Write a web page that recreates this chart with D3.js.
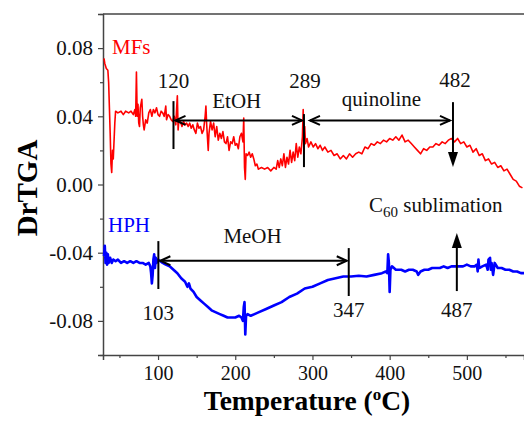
<!DOCTYPE html>
<html>
<head>
<meta charset="utf-8">
<script src="https://cdn.jsdelivr.net/npm/d3@7"></script>
<style>
  body { margin: 0; background: #fff; }
  text { font-family: "Liberation Serif", "Times New Roman", serif; }
</style>
</head>
<body>
<div id="chart"></div>
<script>
// DrTGA curves: [temperature (C), DrTGA]
const mfs = [
  [30, 0.074], [31, 0.071], [33, 0.068], [35, 0.067], [36, 0.060], [37, 0.045], [38, 0.030],
  [39, 0.012], [40, 0.007], [41, 0.020], [42, 0.015], [44, 0.036], [45, 0.043], [48, 0.042],
  [52, 0.043], [55, 0.041], [58, 0.043], [62, 0.042], [65, 0.043], [68, 0.041], [70, 0.044],
  [71, 0.040], [72, 0.066], [73, 0.040], [74, 0.047], [75, 0.036], [76, 0.034], [77, 0.045],
  [79, 0.050], [80, 0.040], [81, 0.035], [82, 0.032], [84, 0.038], [86, 0.036], [88, 0.042],
  [90, 0.044], [92, 0.040], [94, 0.044], [96, 0.042], [98, 0.045], [100, 0.041], [102, 0.040],
  [104, 0.043], [106, 0.042], [108, 0.040], [110, 0.046], [111, 0.038], [113, 0.041],
  [115, 0.040], [117, 0.038], [119, 0.037], [121, 0.040], [123, 0.035], [124, 0.044],
  [125, 0.052], [126, 0.032], [127, 0.038], [129, 0.037], [131, 0.034], [133, 0.037],
  [135, 0.035], [137, 0.036], [139, 0.034], [141, 0.036], [143, 0.033], [145, 0.035],
  [147, 0.032], [149, 0.030], [151, 0.036], [153, 0.033], [155, 0.034], [157, 0.030],
  [159, 0.032], [161, 0.040], [162, 0.046], [163, 0.035], [165, 0.020], [166, 0.030],
  [168, 0.037], [170, 0.032], [172, 0.036], [174, 0.028], [176, 0.034], [178, 0.026],
  [180, 0.030], [182, 0.027], [184, 0.031], [186, 0.025], [188, 0.024], [190, 0.028],
  [192, 0.020], [194, 0.025], [196, 0.024], [198, 0.028], [200, 0.023], [202, 0.024],
  [204, 0.021], [206, 0.028], [208, 0.030], [210, 0.025], [211, 0.039], [212, 0.010],
  [213, 0.003], [214, 0.018], [216, 0.017], [218, 0.019], [220, 0.016], [222, 0.018],
  [224, 0.015], [226, 0.011], [228, 0.012], [230, 0.009], [234, 0.010], [238, 0.009],
  [242, 0.010], [246, 0.008], [250, 0.010], [253, 0.009], [255, 0.014], [257, 0.010],
  [259, 0.015], [261, 0.011], [263, 0.018], [265, 0.010], [267, 0.016], [269, 0.012],
  [271, 0.020], [273, 0.013], [275, 0.019], [277, 0.014], [279, 0.024], [281, 0.016],
  [283, 0.022], [285, 0.018], [287, 0.028], [288, 0.044], [289, 0.018], [290, 0.034],
  [291, 0.024], [293, 0.027], [295, 0.022], [298, 0.025], [301, 0.022], [304, 0.024],
  [307, 0.021], [310, 0.023], [313, 0.020], [316, 0.022], [320, 0.019], [324, 0.020],
  [328, 0.017], [332, 0.018], [336, 0.015], [340, 0.017], [344, 0.015], [348, 0.018],
  [352, 0.016], [356, 0.018], [360, 0.019], [364, 0.018], [368, 0.022], [372, 0.021],
  [376, 0.024], [380, 0.023], [384, 0.025], [388, 0.024], [392, 0.026], [396, 0.025],
  [400, 0.027], [404, 0.026], [408, 0.028], [412, 0.026], [416, 0.029], [420, 0.025],
  [424, 0.026], [428, 0.024], [432, 0.022], [436, 0.020], [440, 0.018], [444, 0.021],
  [448, 0.020], [452, 0.022], [456, 0.022], [460, 0.024], [464, 0.023], [468, 0.025],
  [472, 0.024], [476, 0.026], [480, 0.027], [484, 0.025], [488, 0.027], [492, 0.024],
  [496, 0.025], [500, 0.022], [504, 0.023], [508, 0.019], [512, 0.021], [516, 0.017],
  [520, 0.018], [524, 0.014], [528, 0.015], [532, 0.012], [536, 0.013], [540, 0.010],
  [544, 0.011], [548, 0.008], [552, 0.009], [556, 0.006], [560, 0.003], [564, 0.002],
  [568, -0.001], [572, -0.002]
];

const hph = [
  [30, -0.042], [31, -0.036], [32, -0.046], [33, -0.040], [34, -0.047], [35, -0.041],
  [36, -0.046], [38, -0.043], [40, -0.046], [42, -0.044], [45, -0.045], [48, -0.044],
  [52, -0.046], [56, -0.045], [60, -0.046], [64, -0.045], [68, -0.046], [72, -0.045],
  [76, -0.046], [80, -0.046], [84, -0.047], [88, -0.046], [90, -0.048], [91, -0.052],
  [92, -0.058], [93, -0.053], [94, -0.044], [95, -0.041], [96, -0.049], [97, -0.043],
  [98, -0.046], [100, -0.044], [103, -0.045], [106, -0.046], [110, -0.047], [115, -0.048],
  [120, -0.050], [125, -0.052], [130, -0.055], [135, -0.057], [138, -0.060], [140, -0.058],
  [142, -0.061], [146, -0.063], [150, -0.066], [155, -0.068], [160, -0.070], [165, -0.072],
  [170, -0.074], [175, -0.075], [180, -0.076], [185, -0.077], [190, -0.078], [195, -0.078],
  [200, -0.078], [205, -0.077], [208, -0.078], [210, -0.080], [211, -0.072], [212, -0.069],
  [213, -0.088], [214, -0.077], [216, -0.076], [220, -0.077], [225, -0.076], [230, -0.075],
  [240, -0.073], [250, -0.071], [260, -0.069], [270, -0.066], [280, -0.064], [290, -0.061],
  [300, -0.060], [310, -0.058], [320, -0.056], [330, -0.055], [340, -0.054], [350, -0.054],
  [360, -0.0535], [370, -0.054], [380, -0.053], [390, -0.052], [395, -0.051], [397, -0.052],
  [398, -0.041], [399, -0.046], [400, -0.063], [401, -0.050], [403, -0.048], [408, -0.050],
  [415, -0.050], [420, -0.051], [425, -0.050], [430, -0.050], [435, -0.051], [437, -0.053],
  [440, -0.051], [445, -0.050], [450, -0.050], [455, -0.049], [460, -0.049], [465, -0.049],
  [470, -0.048], [475, -0.049], [480, -0.048], [485, -0.048], [490, -0.048], [495, -0.048],
  [500, -0.047], [505, -0.048], [510, -0.048], [513, -0.047], [514, -0.051], [515, -0.044],
  [516, -0.049], [520, -0.048], [525, -0.047], [527, -0.050], [528, -0.044], [530, -0.043],
  [531, -0.050], [532, -0.046], [534, -0.053], [536, -0.046], [540, -0.049], [545, -0.049],
  [550, -0.050], [555, -0.050], [560, -0.051], [565, -0.051], [570, -0.052], [574, -0.052]
];

// marked temperatures and the step names between them
const mfsEvents = [120, 289, 482];
const mfsSteps = ["EtOH", "quinoline"];
const hphEvents = [103, 347, 487];
const hphSteps = ["MeOH"];

const xTicks = [100, 200, 300, 400, 500];
const yTicks = [-0.08, -0.04, 0.00, 0.04, 0.08];

const width = 524;
const height = 421;
const margin = { top: 14, right: 0, bottom: 66, left: 103 };

const svg = d3.select("#chart").append("svg")
    .attr("width", width)
    .attr("height", height);

const x = d3.scaleLinear()
    .domain([28.7, 574])
    .range([margin.left, width - margin.right]);

const y = d3.scaleLinear()
    .domain([-0.1, 0.1])
    .range([height - margin.bottom, margin.top]);

const axisColor = "#444";
const fontSize = "21px";

// frame: top line + axes
svg.append("line")
    .attr("x1", margin.left).attr("x2", width)
    .attr("y1", margin.top).attr("y2", margin.top)
    .attr("stroke", axisColor).attr("stroke-width", 1.5);

const xAxis = svg.append("g")
    .attr("transform", `translate(0,${height - margin.bottom})`)
    .call(d3.axisBottom(x).tickValues(xTicks).tickSize(5).tickPadding(6).tickFormat(d3.format("d")));

svg.append("g")
    .attr("transform", `translate(0,${height - margin.bottom})`)
    .call(d3.axisBottom(x).tickValues([50, 150, 250, 350, 450, 550]).tickSize(3).tickFormat(""))
    .call(g => g.select(".domain").remove());

const yAxis = svg.append("g")
    .attr("transform", `translate(${margin.left},0)`)
    .call(d3.axisLeft(y).tickValues(yTicks).tickSize(5).tickPadding(5).tickFormat(d3.format(".2f")));

svg.append("g")
    .attr("transform", `translate(${margin.left},0)`)
    .call(d3.axisLeft(y).tickValues([-0.1, -0.06, -0.02, 0.02, 0.06, 0.1]).tickSize(3).tickFormat(""))
    .call(g => g.select(".domain").remove());

svg.selectAll(".domain").attr("stroke", axisColor).attr("stroke-width", 1.5);
svg.selectAll(".tick line").attr("stroke", axisColor).attr("stroke-width", 1.2);
svg.selectAll(".tick text")
    .style("font-family", "Liberation Serif")
    .style("font-size", fontSize)
    .attr("fill", "#111");
xAxis.selectAll(".tick text").style("font-size", "20px");
yAxis.selectAll(".tick text").text(d => d3.format(".2f")(d).replace("−", "-"));

// axis titles
svg.append("text")
    .attr("transform", "rotate(-90)")
    .attr("x", -188)
    .attr("y", 37)
    .attr("text-anchor", "middle")
    .style("font-size", "29px")
    .style("font-weight", "bold")
    .text("DrTGA");

const xTitle = svg.append("text")
    .attr("x", 307)
    .attr("y", 410)
    .attr("text-anchor", "middle")
    .style("font-size", "27.5px")
    .style("font-weight", "bold");
xTitle.append("tspan").text("Temperature (");
xTitle.append("tspan").attr("dy", -10).style("font-size", "17px").text("o");
xTitle.append("tspan").attr("dy", 10).text("C)");

// curves
const line = d3.line()
    .x(d => x(d[0]))
    .y(d => y(d[1]));

svg.append("path")
    .datum(mfs)
    .attr("fill", "none")
    .attr("stroke", "#ff0000")
    .attr("stroke-width", 1.6)
    .attr("stroke-linejoin", "round")
    .attr("d", line);

svg.append("path")
    .datum(hph)
    .attr("fill", "none")
    .attr("stroke", "#0000ff")
    .attr("stroke-width", 2.6)
    .attr("stroke-linejoin", "round")
    .attr("d", line);

// series labels
svg.append("text")
    .attr("x", 112).attr("y", 54)
    .attr("fill", "#ff0000")
    .style("font-size", fontSize)
    .text("MFs");

svg.append("text")
    .attr("x", 108).attr("y", 232)
    .attr("fill", "#0000ff")
    .style("font-size", fontSize)
    .text("HPH");

// arrowhead helpers
function openHead(g, xTip, yTip, dir) {
    g.append("path")
        .attr("d", `M${xTip + dir * 10},${yTip - 4.5}L${xTip},${yTip}L${xTip + dir * 10},${yTip + 4.5}`)
        .attr("fill", "none")
        .attr("stroke", "#000")
        .attr("stroke-width", 2);
}

function doubleArrow(x1, x2, yy) {
    const g = svg.append("g");
    g.append("line")
        .attr("x1", x1).attr("x2", x2)
        .attr("y1", yy).attr("y2", yy)
        .attr("stroke", "#000").attr("stroke-width", 2);
    openHead(g, x1, yy, 1);
    openHead(g, x2, yy, -1);
}

function vMark(xx, v1, v2) {
    svg.append("line")
        .attr("x1", xx).attr("x2", xx)
        .attr("y1", y(v1)).attr("y2", y(v2))
        .attr("stroke", "#000").attr("stroke-width", 2);
}

function solidArrow(xx, vFrom, vTo) {
    const y1 = y(vFrom), y2 = y(vTo);
    const dir = y2 > y1 ? 1 : -1;
    svg.append("line")
        .attr("x1", xx).attr("x2", xx)
        .attr("y1", y1).attr("y2", y2 - dir * 12)
        .attr("stroke", "#000").attr("stroke-width", 2);
    svg.append("path")
        .attr("d", `M${xx - 5},${y2 - dir * 15}L${xx},${y2}L${xx + 5},${y2 - dir * 15}Z`)
        .attr("fill", "#000");
}

function label(xx, yy, txt) {
    svg.append("text")
        .attr("x", xx).attr("y", yy)
        .attr("text-anchor", "middle")
        .attr("fill", "#111")
        .style("font-size", fontSize)
        .text(txt);
}

// MFs annotations
const yMfs = y(0.0376);
vMark(x(mfsEvents[0]), 0.0489, 0.0208);
vMark(x(mfsEvents[1]), 0.0413, 0.0102);
solidArrow(x(mfsEvents[2]), 0.0483, 0.0102);
doubleArrow(x(mfsEvents[0]) + 2, x(mfsEvents[1]) - 2, yMfs);
doubleArrow(x(mfsEvents[1]) + 6, x(mfsEvents[2]) - 3, yMfs);
label(x(mfsEvents[0]), 88, String(mfsEvents[0]));
label(x(mfsEvents[1]) + 1, 88, String(mfsEvents[1]));
label(x(mfsEvents[2]) + 2, 87, String(mfsEvents[2]));
label((x(mfsEvents[0]) + x(mfsEvents[1])) / 2 - 2, 108, mfsSteps[0]);
label((x(mfsEvents[1]) + x(mfsEvents[2])) / 2 + 3, 106, mfsSteps[1]);

const c60 = svg.append("text")
    .attr("x", 369).attr("y", 212)
    .attr("fill", "#111")
    .style("font-size", fontSize);
c60.append("tspan").text("C");
c60.append("tspan").attr("dy", 5).style("font-size", "15px").text("60");
c60.append("tspan").attr("dy", -5).text(" sublimation");

// HPH annotations
const yHph = y(-0.0447);
vMark(x(hphEvents[0]) - 2, -0.0332, -0.0613);
vMark(x(hphEvents[1]), -0.0373, -0.0654);
solidArrow(x(hphEvents[2]), -0.0625, -0.0285);
doubleArrow(x(hphEvents[0]), x(hphEvents[1]) - 2, yHph);
label(x(hphEvents[0]) - 2, 320, String(hphEvents[0]));
label(x(hphEvents[1]), 317, String(hphEvents[1]));
label(x(hphEvents[2]), 317, String(hphEvents[2]));
label((x(hphEvents[0]) + x(hphEvents[1])) / 2 - 2, 243, hphSteps[0]);
</script>
</body>
</html>
